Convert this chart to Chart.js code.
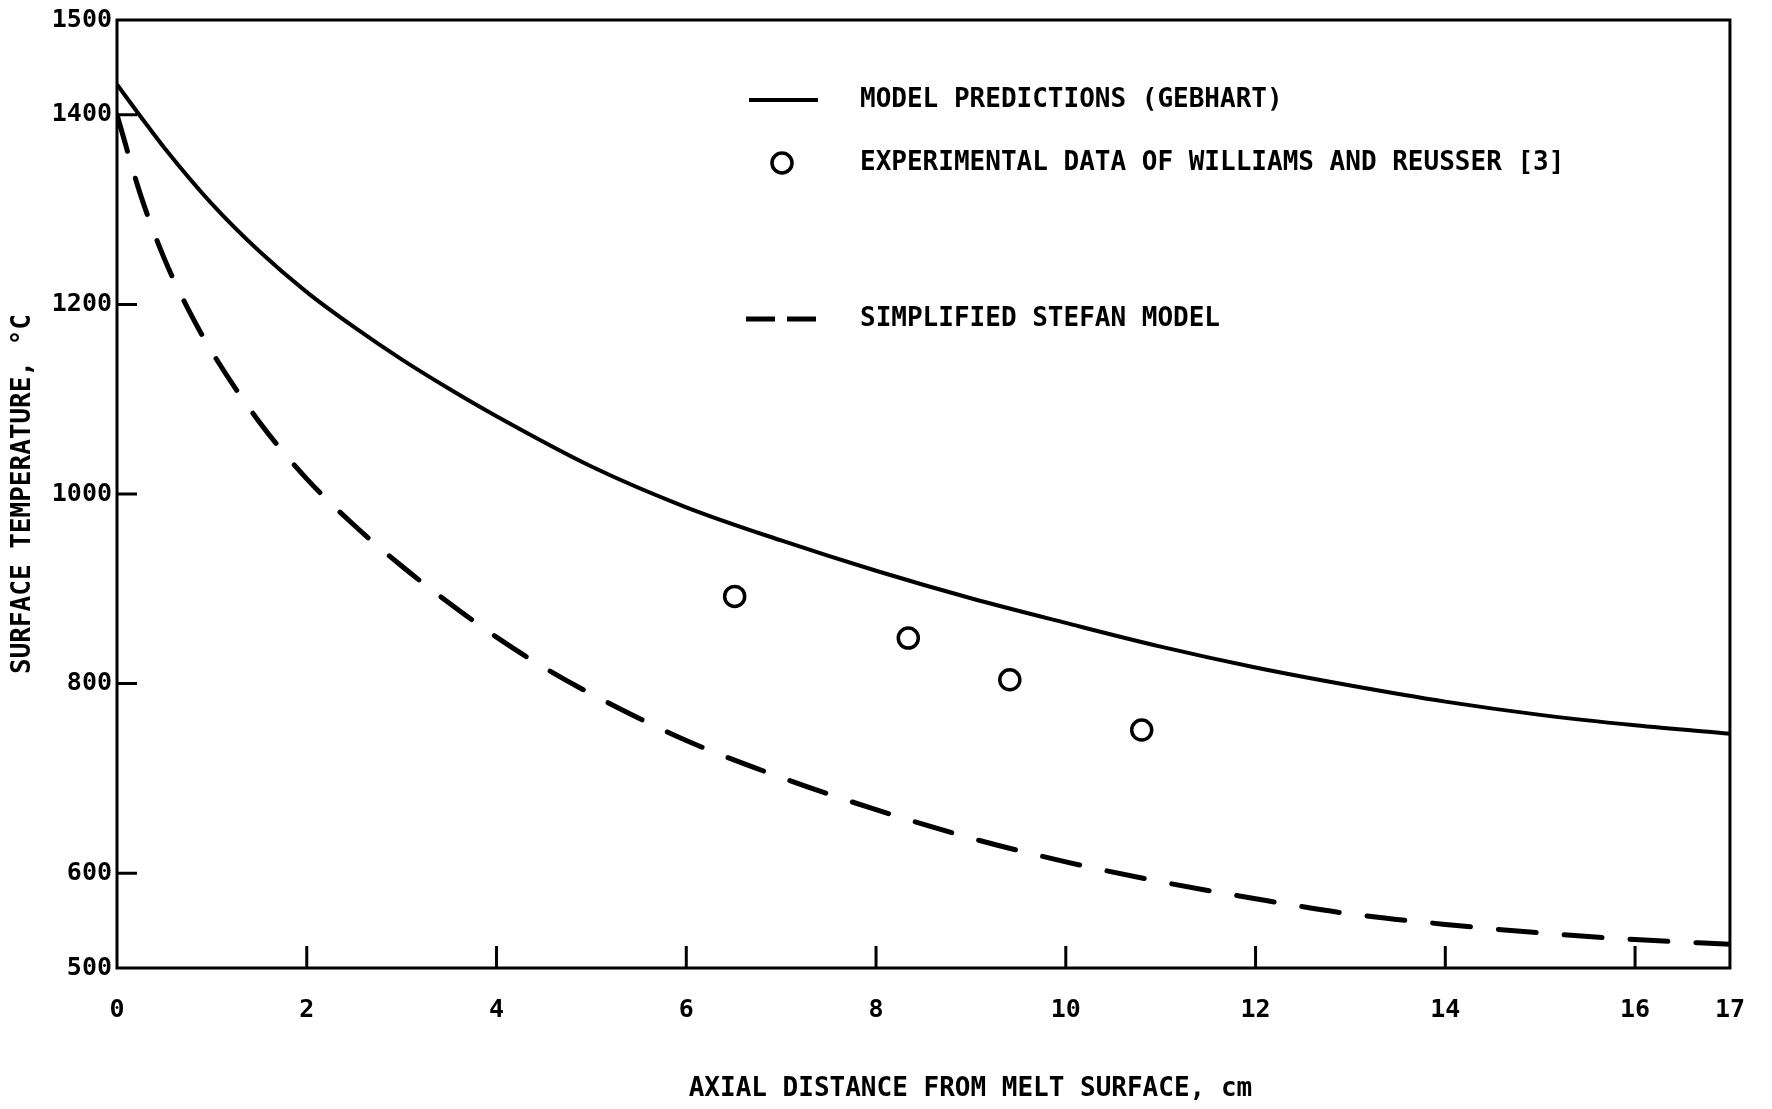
<!DOCTYPE html>
<html>
<head>
<meta charset="utf-8">
<title>Surface temperature vs axial distance</title>
<script src="https://cdn.jsdelivr.net/npm/chart.js@4.4.1/dist/chart.umd.min.js"></script>
<style>
  body { margin: 0; background: #fff; }
  #wrap { width: 1772px; height: 1109px; position: relative; }
</style>
</head>
<body>
<div id="wrap"><canvas id="chart"></canvas></div>
<script>
// values
var gebhartX = [0, 0.25, 0.5, 1, 1.5, 2, 2.5, 3, 3.5, 4, 5, 6, 7, 8, 9, 10, 11, 12, 13, 14, 15, 16, 17];
var gebhartY = [1432, 1398, 1365, 1306, 1256, 1213, 1176, 1142, 1111, 1082, 1029, 986, 951, 919, 890, 864, 839, 817, 798, 781, 767, 756, 747];

var stefanX = [0, 0.25, 0.5, 0.75, 1, 1.5, 2, 2.5, 3, 3.5, 4, 4.5, 5, 6, 7, 8, 9, 10, 11, 12, 13, 14, 15, 16, 17];
var stefanY = [1400, 1315, 1248, 1195, 1150, 1076, 1016, 967, 924, 885, 849, 817, 789, 740, 701, 667, 637, 612, 591, 573, 557, 546, 537, 530, 525];

var expX = [6.51, 8.34, 9.41, 10.80];
var expY = [892, 848, 804, 751];

var xTicks = [0, 2, 4, 6, 8, 10, 12, 14, 16, 17];
var yTicks = [500, 600, 800, 1000, 1200, 1400, 1500];

var labels = [
  "MODEL PREDICTIONS (GEBHART)",
  "EXPERIMENTAL DATA OF WILLIAMS AND REUSSER [3]",
  "SIMPLIFIED STEFAN MODEL",
];

function toPoints(xs, ys) {
  var pts = [];
  for (var i = 0; i < xs.length; i++) pts.push({ x: xs[i], y: ys[i] });
  return pts;
}

var typeFont = { family: "'DejaVu Sans Mono', monospace", size: 26, weight: "bold" };
var tickFont = { family: "'DejaVu Sans Mono', monospace", size: 25, weight: "bold" };

// box round the plot and the short inward tick marks
var frame = {
  id: "frame",
  afterDatasetsDraw(chart) {
    var ctx = chart.ctx;
    var a = chart.chartArea;
    var xs = chart.scales.x;
    var ys = chart.scales.y;
    ctx.save();
    ctx.strokeStyle = "#000";
    ctx.lineWidth = 3;
    ctx.strokeRect(a.left, a.top, a.right - a.left, a.bottom - a.top);
    ctx.beginPath();
    xs.ticks.forEach(function (t) {
      if (t.value <= xs.min || t.value >= xs.max) return;
      var px = xs.getPixelForValue(t.value);
      ctx.moveTo(px, a.bottom);
      ctx.lineTo(px, a.bottom - 22);
    });
    ys.ticks.forEach(function (t) {
      if (t.value <= ys.min || t.value >= ys.max) return;
      var py = ys.getPixelForValue(t.value);
      ctx.moveTo(a.left, py);
      ctx.lineTo(a.left + 20, py);
    });
    ctx.stroke();
    ctx.restore();
  },
};

// legend placed like the typed key in the original
var key = {
  id: "key",
  afterDraw(chart) {
    var ctx = chart.ctx;
    var rows = [
      { y: 100, kind: "solid" },
      { y: 163, kind: "circle" },
      { y: 319, kind: "dash" },
    ];
    ctx.save();
    ctx.strokeStyle = "#000";
    ctx.fillStyle = "#000";
    ctx.font = "bold 26px 'DejaVu Sans Mono', monospace";
    ctx.textBaseline = "middle";
    rows.forEach(function (r, i) {
      ctx.beginPath();
      if (r.kind === "solid") {
        ctx.lineWidth = 4;
        ctx.moveTo(749, r.y);
        ctx.lineTo(818, r.y);
        ctx.stroke();
      } else if (r.kind === "circle") {
        ctx.lineWidth = 3.5;
        ctx.arc(782, r.y, 10, 0, Math.PI * 2);
        ctx.stroke();
      } else {
        ctx.lineWidth = 5;
        ctx.setLineDash([29, 12]);
        ctx.moveTo(746, r.y);
        ctx.lineTo(818, r.y);
        ctx.stroke();
        ctx.setLineDash([]);
      }
      ctx.fillText(labels[i], 860, r.y);
    });
    ctx.restore();
  },
};

var config = {
  type: "scatter",
  data: {
    datasets: [
      {
        label: labels[0],
        data: toPoints(gebhartX, gebhartY),
        showLine: true,
        borderColor: "#000",
        borderWidth: 4,
        pointRadius: 0,
        cubicInterpolationMode: "monotone",
      },
      {
        label: labels[1],
        data: toPoints(expX, expY),
        showLine: false,
        borderColor: "#000",
        backgroundColor: "rgba(0,0,0,0)",
        borderWidth: 3.5,
        pointRadius: 10,
        pointStyle: "circle",
      },
      {
        label: labels[2],
        data: toPoints(stefanX, stefanY),
        showLine: true,
        borderColor: "#000",
        borderWidth: 5,
        borderDash: [38, 28],
        borderCapStyle: "round",
        pointRadius: 0,
        cubicInterpolationMode: "monotone",
      },
    ],
  },
  options: {
    responsive: true,
    maintainAspectRatio: false,
    animation: false,
    layout: { padding: { top: 18, right: 40, left: 0, bottom: 0 } },
    plugins: {
      legend: { display: false },
      tooltip: { enabled: false },
    },
    scales: {
      x: {
        type: "linear",
        min: 0,
        max: 17,
        afterBuildTicks: function (s) {
          s.ticks = xTicks.map(function (v) { return { value: v }; });
        },
        afterFit: function (s) { s.height = 141; },
        grid: { display: false, drawTicks: false },
        border: { display: false },
        ticks: {
          color: "#000",
          font: tickFont,
          padding: 27,
          autoSkip: false,
          maxRotation: 0,
          callback: function (v) { return String(v); },
        },
        title: {
          display: true,
          text: "      AXIAL DISTANCE FROM MELT SURFACE, cm",
          color: "#000",
          font: typeFont,
          padding: { top: 0, bottom: 4 },
        },
      },
      y: {
        type: "linear",
        min: 500,
        max: 1500,
        afterBuildTicks: function (s) {
          s.ticks = yTicks.map(function (v) { return { value: v }; });
        },
        afterFit: function (s) { s.width = 117; },
        grid: { display: false, drawTicks: false },
        border: { display: false },
        ticks: {
          color: "#000",
          font: tickFont,
          padding: 5,
          autoSkip: false,
          callback: function (v) { return String(v); },
        },
        title: {
          display: true,
          text: "SURFACE TEMPERATURE, °C",
          color: "#000",
          font: typeFont,
          padding: { top: 8, bottom: 0 },
        },
      },
    },
  },
  plugins: [frame, key],
};

new Chart(document.getElementById("chart"), config);
</script>
</body>
</html>
